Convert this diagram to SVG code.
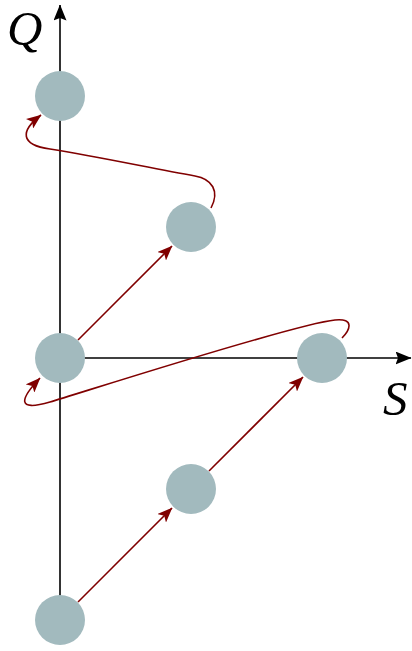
<svg xmlns="http://www.w3.org/2000/svg" width="412" height="651" viewBox="0 0 412 651">
<style>
.axis{stroke:#000;stroke-width:1.6;fill:none}
.node{fill:#a2babe}
.edge{stroke:#800000;stroke-width:1.6;fill:none;marker-end:url(#ah)}
.lbl{font-family:"Liberation Serif","DejaVu Serif",serif;font-style:italic;font-size:49px;fill:#000}
</style>
<defs>
<marker id="ah" markerUnits="userSpaceOnUse" viewBox="0 0 15 12" refX="14.5" refY="6" markerWidth="15" markerHeight="12" orient="auto">
<path d="M0,0 L15,6 L0,12 L3.5,6 z" fill="#800000"/>
</marker>
<marker id="axh" markerUnits="userSpaceOnUse" viewBox="0 0 16 13" refX="15.5" refY="6.5" markerWidth="16" markerHeight="13" orient="auto">
<path d="M0,0 L16,6.5 L0,13 L2.5,6.5 z" fill="#000"/>
</marker>
</defs>
<g id="axes">
<line class="axis" x1="60" y1="620" x2="60" y2="5" marker-end="url(#axh)"/>
<line class="axis" x1="60" y1="358" x2="411" y2="358" marker-end="url(#axh)"/>
<text class="lbl" x="7" y="45">Q</text>
<text class="lbl" x="383" y="415">S</text>
</g>
<g id="connectors">
<line class="edge" x1="78" y1="602" x2="172" y2="508"/>
<line class="edge" x1="209" y1="471" x2="303" y2="377"/>
<line class="edge" x1="78" y1="340" x2="172" y2="246"/>
<path class="edge" d="M211,208 C220,191 212,179 195,176 C150,168 100,157 50,149 C20,145 20,131 41,115"/>
<path class="edge" d="M342,338 C350,330 355,318 335,320 C295,324 90,390 50,402 C16,412 20,399 40,378"/>
</g>
<g id="n1"><circle class="node" cx="60" cy="96" r="25"/></g>
<g id="n2"><circle class="node" cx="191" cy="227" r="25"/></g>
<g id="n3"><circle class="node" cx="60" cy="358" r="25"/></g>
<g id="n4"><circle class="node" cx="322" cy="358" r="25"/></g>
<g id="n5"><circle class="node" cx="191" cy="489" r="25"/></g>
<g id="n6"><circle class="node" cx="60" cy="620" r="25"/></g>
</svg>
